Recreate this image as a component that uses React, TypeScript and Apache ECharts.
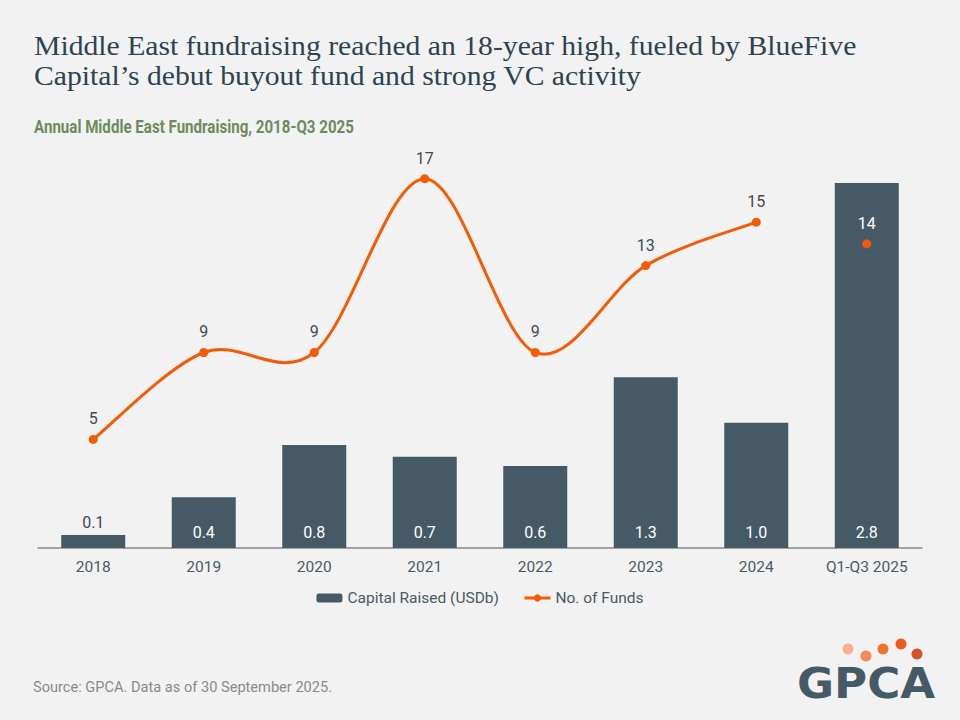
import React, { useEffect, useRef } from "react";
import * as echarts from "echarts";

const categories = ["2018", "2019", "2020", "2021", "2022", "2023", "2024", "Q1-Q3 2025"];
const capitalRaised = [0.1, 0.39, 0.79, 0.7, 0.63, 1.31, 0.96, 2.8];
const fundsLine: (number | string)[] = [5, 9, 9, 17, 9, 13, 15, "-"];
const fundsLatest: (number | string)[] = ["-", "-", "-", "-", "-", "-", "-", 14];

const titleText = "Middle East fundraising reached an 18-year high, fueled by BlueFive\nCapital\u2019s debut buyout fund and strong VC activity";
const subtitleText = "Annual Middle East Fundraising, 2018-Q3 2025";
const sourceText = "Source: GPCA. Data as of 30 September 2025.";

const BAR = "#465a66";
const ORANGE = "#f35b06";
const AXIS_TEXT = "#4a5a62";

export default function App() {
  const ref = useRef<HTMLDivElement>(null);
  useEffect(() => {
    if (!ref.current) return;
    const chart = echarts.init(ref.current, null, { renderer: "svg" });
    const barData = capitalRaised.map((v, i) =>
      i === 0
        ? { value: v, label: { position: "top", color: "#3d4a52", distance: 4 } }
        : v
    );
    const curveRender = (params: any, api: any) => {
      const pts: number[][] = [];
      fundsLine.forEach((v, i) => {
        if (typeof v === "number") pts.push(api.coord([i, v]));
      });
      if (pts.length < 2) return null;
      let d = `M${pts[0][0]},${pts[0][1]}`;
      for (let i = 0; i < pts.length - 1; i++) {
        const p0 = pts[i - 1] || pts[i];
        const p1 = pts[i];
        const p2 = pts[i + 1];
        const p3 = pts[i + 2] || p2;
        const c1x = p1[0] + (p2[0] - p0[0]) / 6;
        const c1y = p1[1] + (p2[1] - p0[1]) / 6;
        const c2x = p2[0] - (p3[0] - p1[0]) / 6;
        const c2y = p2[1] - (p3[1] - p1[1]) / 6;
        d += ` C${c1x},${c1y} ${c2x},${c2y} ${p2[0]},${p2[1]}`;
      }
      return {
        type: "path",
        shape: { pathData: d },
        style: { fill: "none", stroke: ORANGE, lineWidth: 3 },
      };
    };
    chart.setOption({
      animation: false,
      backgroundColor: "#f2f2f2",
      textStyle: { fontFamily: "Roboto" },
      graphic: [
        {
          type: "text",
          x: 34,
          y: 30,
          scaleX: 1.06,
          style: {
            text: titleText,
            font: "28px 'Liberation Serif'",
            fill: "#2d4450",
            lineHeight: 30,
          },
        },
        {
          type: "text",
          x: 34,
          y: 118,
          scaleX: 0.84,
          style: {
            text: subtitleText,
            font: "bold 18px Roboto",
            fill: "#6e8b5e",
          },
        },
        {
          type: "text",
          left: 33,
          top: 679,
          style: {
            text: sourceText,
            font: "14.6px Roboto",
            fill: "#8a8a8a",
          },
        },
        { type: "circle", shape: { cx: 848, cy: 649, r: 5.5 }, style: { fill: "#f9b08f" } },
        { type: "circle", shape: { cx: 866, cy: 656, r: 5.5 }, style: { fill: "#f48a50" } },
        { type: "circle", shape: { cx: 883, cy: 649, r: 5.5 }, style: { fill: "#f2722c" } },
        { type: "circle", shape: { cx: 901, cy: 644, r: 5.5 }, style: { fill: "#ef5a1c" } },
        { type: "circle", shape: { cx: 917, cy: 654, r: 5.5 }, style: { fill: "#d5532b" } },
        {
          type: "text",
          x: 797,
          y: 661,
          scaleX: 1.05,
          style: {
            text: "GPCA",
            font: "bold 43px 'DejaVu Sans'",
            fill: "#465a66",
          },
        },
      ],
      legend: {
        data: [
          { name: "Capital Raised (USDb)" },
          { name: "No. of Funds", lineStyle: { opacity: 1, color: ORANGE, width: 3 } },
        ],
        left: "center",
        top: 585,
        itemWidth: 26,
        itemHeight: 9,
        itemGap: 24,
        textStyle: { color: AXIS_TEXT, fontSize: 15.5, fontFamily: "Roboto" },
      },
      grid: { left: 38, right: 38, top: 170, bottom: 172, containLabel: false },
      xAxis: {
        type: "category",
        data: categories,
        axisLine: { lineStyle: { color: "#8a8a8a", width: 1.5 } },
        axisTick: { show: false },
        axisLabel: { color: AXIS_TEXT, fontSize: 15.5, fontFamily: "Roboto", margin: 11 },
      },
      yAxis: [
        { type: "value", min: 0, max: 2.9, show: false, splitLine: { show: false } },
        { type: "value", min: 0, max: 17.4, show: false, splitLine: { show: false } },
      ],
      series: [
        {
          name: "Capital Raised (USDb)",
          type: "bar",
          data: barData,
          barWidth: 64,
          itemStyle: { color: BAR },
          label: {
            show: true,
            position: "insideBottom",
            distance: 8,
            color: "#ffffff",
            fontSize: 16,
            fontFamily: "Roboto",
            formatter: (p: any) => Number(p.value).toFixed(1),
          },
        },
        {
          name: "fundsCurve",
          type: "custom",
          yAxisIndex: 1,
          data: [[0, 0]],
          renderItem: curveRender,
          silent: true,
          z: 3,
        },
        {
          name: "No. of Funds",
          type: "line",
          yAxisIndex: 1,
          data: fundsLine,
          symbol: "circle",
          symbolSize: 9,
          z: 4,
          itemStyle: { color: ORANGE },
          lineStyle: { color: ORANGE, width: 3, opacity: 0 },
          label: {
            show: true,
            position: "top",
            distance: 8,
            color: "#404b52",
            fontSize: 16,
            fontFamily: "Roboto",
          },
        },
        {
          name: "No. of Funds",
          type: "line",
          yAxisIndex: 1,
          data: fundsLatest,
          symbol: "circle",
          symbolSize: 9,
          showSymbol: true,
          z: 4,
          itemStyle: { color: ORANGE },
          lineStyle: { color: ORANGE, width: 3, opacity: 0 },
          label: {
            show: true,
            position: "top",
            distance: 8,
            color: "#ffffff",
            fontSize: 16,
            fontFamily: "Roboto",
          },
        },
      ],
    });
    return () => chart.dispose();
  }, []);
  return <div ref={ref} style={{ width: 960, height: 720, position: "absolute", left: 0, top: 0 }} />;
}
